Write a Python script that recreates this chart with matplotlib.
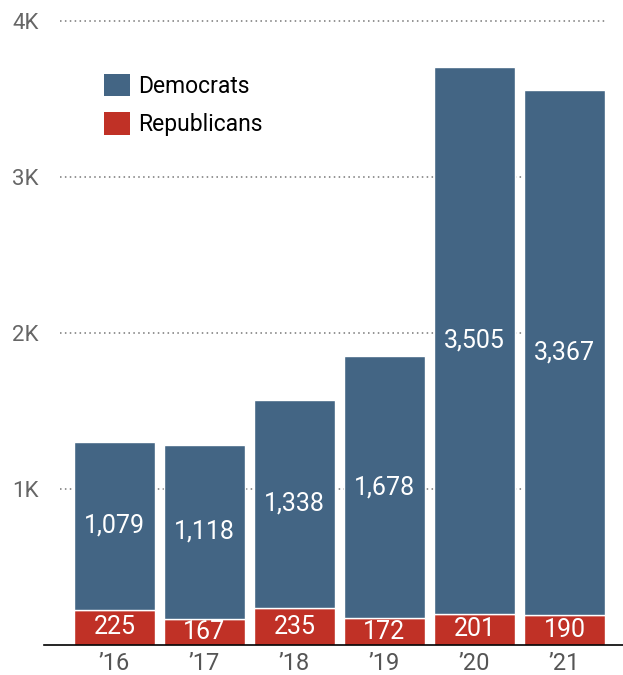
import matplotlib
matplotlib.use("Agg")
import matplotlib.pyplot as plt
import numpy as np
from matplotlib.patches import Patch

plt.rcParams['font.family'] = ['Roboto', 'DejaVu Sans']

years = ["\u201916", "\u201917", "\u201918", "\u201919", "\u201920", "\u201921"]
democrats = [1079, 1118, 1338, 1678, 3505, 3367]
republicans = [225, 167, 235, 172, 201, 190]
yticks = [1000, 2000, 3000, 4000]
ytick_labels = ["1K", "2K", "3K", "4K"]

dem_color = "#436584"
rep_color = "#c03126"

W, H = 623, 675
fig = plt.figure(figsize=(W / 100, H / 100), dpi=100)
# axes box in pixels: left 44, right edge of figure, baseline at y=645, top at 0
ax = fig.add_axes([44 / W, (H - 645) / H, (W - 44) / W, 645 / H])

x = np.arange(len(years))
bw = 0.9
ax.bar(x, republicans, width=bw, color=rep_color, edgecolor="white", linewidth=1, zorder=2)
ax.bar(x, democrats, width=bw, bottom=republicans, color=dem_color,
       edgecolor="white", linewidth=1, zorder=2)

# value labels centred in each segment
for i in range(len(years)):
    ax.text(x[i], republicans[i] / 2, f"{republicans[i]:,}", ha="center", va="center",
            color="white", fontsize=18, zorder=3)
    ax.text(x[i], republicans[i] + democrats[i] / 2, f"{democrats[i]:,}", ha="center",
            va="center", color="white", fontsize=18, zorder=3)

# dotted gridlines, stopping short of the axis labels
ax.hlines(yticks, -0.606, 5.45, colors="#777777", linestyles=(0, (1, 2.2)),
          linewidth=1.1, zorder=1)

ax.set_xlim(-0.783, 5.65)
ax.set_ylim(0, 4135)
ax.set_yticks(yticks)
ax.set_yticklabels(ytick_labels, fontsize=16, color="#666666")
ax.set_xticks(x)
ax.set_xticklabels(years, fontsize=17, color="#555555")
ax.tick_params(axis="y", length=0, pad=4)
ax.tick_params(axis="x", length=0, pad=5)

for s in ["top", "right", "left"]:
    ax.spines[s].set_visible(False)
ax.spines["bottom"].set_color("black")
ax.spines["bottom"].set_linewidth(1.2)

handles = [Patch(facecolor=dem_color, label="Democrats"),
           Patch(facecolor=rep_color, label="Republicans")]
ax.legend(handles=handles, loc="upper left", bbox_to_anchor=(104 / W, 1 - 74 / H),
          bbox_transform=fig.transFigure, frameon=False, fontsize=16.5,
          handlelength=1.13, handleheight=1.13, handletextpad=0.35,
          labelspacing=0.62, borderpad=0, borderaxespad=0)

fig.savefig("out.png", dpi=100)
